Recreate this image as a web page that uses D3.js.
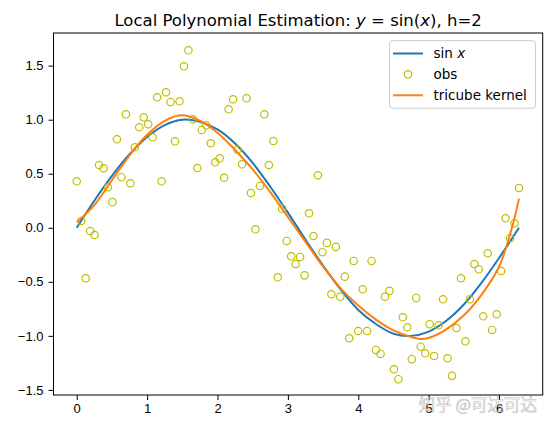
<!DOCTYPE html>
<html>
<head>
<meta charset="utf-8">
<script src="https://cdn.jsdelivr.net/npm/d3@7"></script>
<style>
  body { margin: 0; background: #fff; }
  svg { display: block; font-family: "DejaVu Sans", sans-serif; }
  .axis text { font-size: 13px; fill: #000; }
  .axis path, .axis line { stroke: #000; stroke-width: 1; }
</style>
</head>
<body>
<div id="chart"></div>
<script>
var obsX = d3.range(100).map(function(i) { return i * 2 * Math.PI / 99; });
var obsY = [
  0.430, 0.063, -0.467, -0.030, -0.067, 0.581, 0.550, 0.375, 0.237, 0.819,
  0.468, 1.050, 0.412, 0.745, 0.930, 1.022, 0.958, 0.837, 1.207, 0.430,
  1.254, 1.164, 0.800, 1.170, 1.494, 1.642, 1.004, 0.553, 0.905, 0.948,
  0.782, 0.606, 0.643, 0.463, 1.096, 1.189, 0.722, 0.587, 1.198, 0.322,
  -0.014, 0.387, 1.050, 0.581, 0.803, -0.458, 0.177, -0.122, -0.264, -0.335,
  -0.270, -0.440, 0.134, -0.076, 0.486, -0.226, -0.140, -0.615, -0.177, -0.637,
  -0.452, -1.022, -0.307, -0.955, -0.569, -0.955, -0.307, -1.130, -1.167, -0.637,
  -0.584, -1.309, -1.401, -0.828, -0.920, -1.216, -0.649, -1.100, -1.161, -0.892,
  -1.186, -0.902, -0.661, -1.207, -1.370, -0.927, -0.467, -1.050, -0.661, -0.335,
  -0.384, -0.819, -0.236, -0.945, -0.800, -0.400, 0.088, -0.097, 0.042, 0.368
];

// sin x curve, sampled
var sinX = [0, 0.25, 0.5, 0.75, 1, 1.25, 1.5, 1.75, 2, 2.25, 2.5, 2.75, 3, 3.25,
            3.5, 3.75, 4, 4.25, 4.5, 4.75, 5, 5.25, 5.5, 5.75, 6, 6.283];
var sinY = [0, 0.25, 0.48, 0.68, 0.84, 0.95, 1.0, 0.98, 0.91, 0.78, 0.60, 0.38, 0.14, -0.11,
            -0.35, -0.57, -0.76, -0.89, -0.98, -1.0, -0.96, -0.86, -0.71, -0.51, -0.28, 0];

// tricube kernel local polynomial fit
var fitX = [0, 0.25, 0.5, 0.75, 1, 1.25, 1.5, 1.75, 2, 2.25, 2.5, 2.75, 3, 3.25,
            3.5, 3.75, 4, 4.25, 4.5, 4.75, 4.9, 5, 5.25, 5.5, 5.75, 6, 6.1, 6.2, 6.283];
var fitY = [0.05, 0.21, 0.44, 0.67, 0.86, 0.99, 1.04, 0.99, 0.88, 0.72, 0.54, 0.33, 0.10, -0.13,
            -0.36, -0.56, -0.72, -0.85, -0.95, -1.01, -1.03, -1.02, -0.94, -0.81, -0.62, -0.36, -0.18, 0.04, 0.27];

var xTicks = [0, 1, 2, 3, 4, 5, 6];
var yTicks = [-1.5, -1.0, -0.5, 0.0, 0.5, 1.0, 1.5];

var width = 551, height = 429;
var plot = {left: 53.5, top: 33, right: 542.7, bottom: 395};

var svg = d3.select("#chart").append("svg")
    .attr("width", width)
    .attr("height", height);

var x = d3.scaleLinear().domain([-0.33, 6.62]).range([plot.left, plot.right]);
var y = d3.scaleLinear().domain([-1.547, 1.802]).range([plot.bottom, plot.top]);

var fmt = function(d) { return d3.format(".1f")(d).replace("-", "\u2212"); };

svg.append("g")
    .attr("class", "axis x")
    .attr("transform", "translate(0," + plot.bottom + ")")
    .call(d3.axisBottom(x).tickValues(xTicks).tickFormat(d3.format("d"))
      .tickSize(5).tickPadding(4).tickSizeOuter(0))
    .call(function(g) { g.select(".domain").remove(); });

svg.append("g")
    .attr("class", "axis y")
    .attr("transform", "translate(" + plot.left + ",0)")
    .call(d3.axisLeft(y).tickValues(yTicks).tickFormat(fmt).tickSize(5).tickPadding(5).tickSizeOuter(0))
    .call(function(g) { g.select(".domain").remove(); });

svg.append("defs").append("clipPath").attr("id", "clip")
  .append("rect")
    .attr("x", plot.left).attr("y", plot.top)
    .attr("width", plot.right - plot.left).attr("height", plot.bottom - plot.top);

var g = svg.append("g").attr("clip-path", "url(#clip)");

var line = d3.line()
    .curve(d3.curveCatmullRom)
    .x(function(d) { return x(d[0]); })
    .y(function(d) { return y(d[1]); });

g.append("path")
    .datum(d3.zip(sinX, sinY))
    .attr("d", line)
    .style("fill", "none")
    .style("stroke", "#1f77b4")
    .style("stroke-width", 2);

g.selectAll("circle.obs")
    .data(d3.zip(obsX, obsY))
  .enter().append("circle")
    .attr("class", "obs")
    .attr("cx", function(d) { return x(d[0]); })
    .attr("cy", function(d) { return y(d[1]); })
    .attr("r", 3.7)
    .style("fill", "none")
    .style("stroke", "#bfbf00")
    .style("stroke-width", 1.2);

g.append("path")
    .datum(d3.zip(fitX, fitY))
    .attr("d", line)
    .style("fill", "none")
    .style("stroke", "#ff7f0e")
    .style("stroke-width", 2);

// frame
svg.append("rect")
    .attr("x", plot.left).attr("y", plot.top)
    .attr("width", plot.right - plot.left).attr("height", plot.bottom - plot.top)
    .style("fill", "none")
    .style("stroke", "#000")
    .style("stroke-width", 1);

// title
var title = svg.append("text")
    .attr("x", (plot.left + plot.right) / 2)
    .attr("y", 26)
    .attr("text-anchor", "middle")
    .style("font-size", "16.5px");
title.append("tspan").text("Local Polynomial Estimation: ");
title.append("tspan").style("font-style", "italic").text("y");
title.append("tspan").text(" = sin(");
title.append("tspan").style("font-style", "italic").text("x");
title.append("tspan").text("), h=2");

// legend
var legend = svg.append("g").attr("transform", "translate(389.5,40.7)");
legend.append("rect")
    .attr("width", 146).attr("height", 67.5)
    .attr("rx", 3)
    .style("fill", "#fff")
    .style("fill-opacity", 0.8)
    .style("stroke", "#cccccc")
    .style("stroke-width", 1);

var items = [
  {label: ["sin ", "x"], type: "line", color: "#1f77b4"},
  {label: ["obs"], type: "marker", color: "#bfbf00"},
  {label: ["tricube kernel"], type: "line", color: "#ff7f0e"}
];

items.forEach(function(it, i) {
  var cy = 12.8 + i * 20.9;
  if (it.type === "line") {
    legend.append("line")
        .attr("x1", 3.5).attr("x2", 33.5).attr("y1", cy).attr("y2", cy)
        .style("stroke", it.color).style("stroke-width", 2);
  } else {
    legend.append("circle")
        .attr("cx", 18.5).attr("cy", cy).attr("r", 3.7)
        .style("fill", "none").style("stroke", it.color).style("stroke-width", 1.2);
  }
  var t = legend.append("text")
      .attr("x", 44).attr("y", cy + 4.5)
      .style("font-size", "13.5px");
  t.append("tspan").text(it.label[0]);
  if (it.label[1]) t.append("tspan").style("font-style", "italic").text(it.label[1]);
});

// watermark (translucent, tick labels show through)
svg.append("text")
    .attr("x", 537)
    .attr("y", 411)
    .attr("text-anchor", "end")
    .style("font-family", "'Noto Sans CJK SC', sans-serif")
    .style("font-size", "16.5px")
    .style("fill", "#ffffff")
    .style("fill-opacity", 0.45)
    .style("stroke", "#9a9a9a")
    .style("stroke-opacity", 0.7)
    .style("stroke-width", 0.6)
    .text("知乎 @可达可达");
</script>
</body>
</html>
